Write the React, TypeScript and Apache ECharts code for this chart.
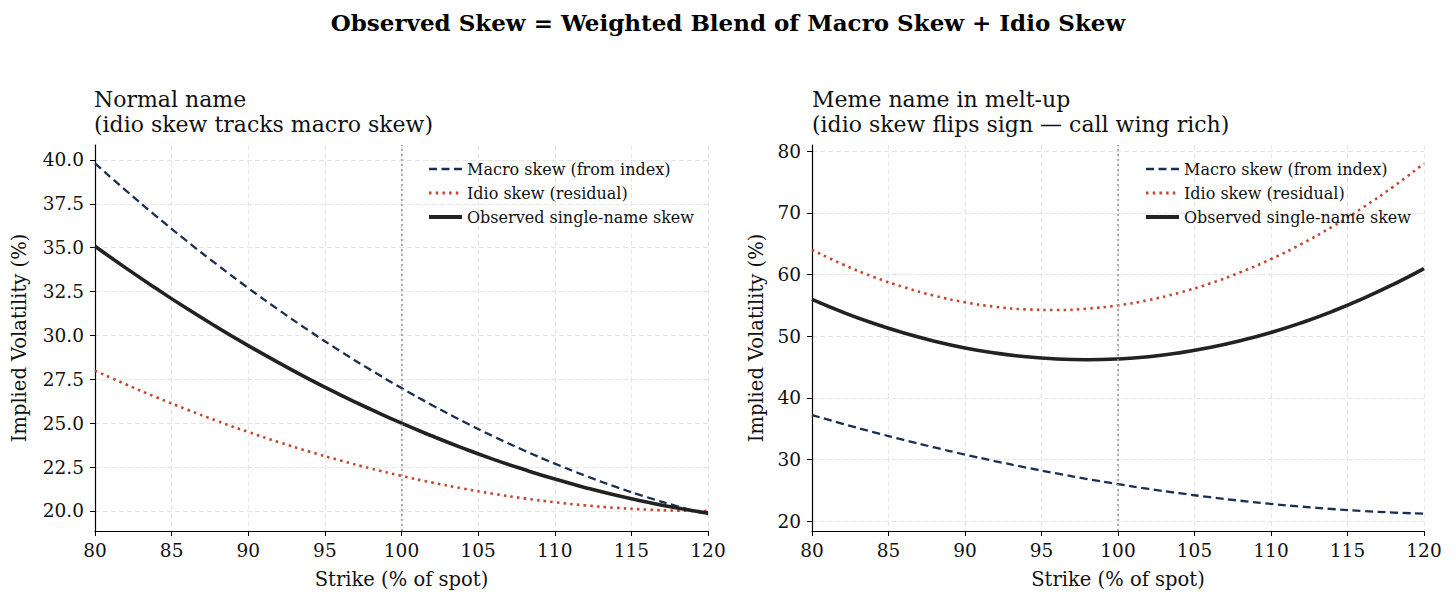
import React, { useEffect, useRef } from 'react';
import * as echarts from 'echarts';

const strikes = [80, 82, 84, 86, 88, 90, 92, 94, 96, 98, 100, 102, 104, 106, 108, 110, 112, 114, 116, 118, 120];

// Normal name
const normalMacro = [39.8, 38.27, 36.79, 35.37, 34.01, 32.7, 31.45, 30.25, 29.11, 28.03, 27.0, 26.03, 25.11, 24.25, 23.45, 22.7, 22.01, 21.37, 20.79, 20.27, 19.8];
const normalIdio = [28.0, 27.22, 26.48, 25.78, 25.12, 24.5, 23.92, 23.38, 22.88, 22.42, 22.0, 21.62, 21.28, 20.98, 20.72, 20.5, 20.32, 20.18, 20.08, 20.02, 20.0];
const normalObserved = [35.08, 33.85, 32.67, 31.53, 30.45, 29.42, 28.44, 27.5, 26.62, 25.79, 25.0, 24.27, 23.58, 22.94, 22.36, 21.82, 21.33, 20.89, 20.51, 20.17, 19.88];

// Meme name
const memeMacro = [37.2, 35.79, 34.45, 33.17, 31.95, 30.8, 29.71, 28.69, 27.73, 26.83, 26.0, 25.23, 24.53, 23.89, 23.31, 22.8, 22.35, 21.97, 21.65, 21.39, 21.2];
const memeIdio = [64.0, 61.66, 59.64, 57.94, 56.56, 55.5, 54.76, 54.34, 54.24, 54.46, 55.0, 55.86, 57.04, 58.54, 60.36, 62.5, 64.96, 67.74, 70.84, 74.26, 78.0];
const memeObserved = [55.96, 53.9, 52.08, 50.51, 49.18, 48.09, 47.25, 46.65, 46.29, 46.17, 46.3, 46.67, 47.29, 48.15, 49.25, 50.59, 52.18, 54.01, 56.08, 58.4, 60.96];

const normalTicks = [20, 22.5, 25, 27.5, 30, 32.5, 35, 37.5, 40];
const memeTicks = [20, 30, 40, 50, 60, 70, 80];

const SERIF = 'DejaVu Serif';
const NAVY = '#1b2f52';
const RUST = '#c4452f';
const INK = '#222222';

const pairs = (ys: number[]) => strikes.map((x, i) => [x, ys[i]]);

export default function App() {
  const ref = useRef<HTMLDivElement>(null);

  useEffect(() => {
    if (!ref.current) return;
    const chart = echarts.init(ref.current, null, { renderer: 'svg' });

    const xAxisBase = (gridIndex: number) => ({
      type: 'value',
      gridIndex,
      min: 80,
      max: 120,
      interval: 5,
      name: 'Strike (% of spot)',
      nameLocation: 'middle',
      nameGap: 38,
      nameTextStyle: { fontFamily: SERIF, fontSize: 19.5, color: '#111' },
      axisLine: { show: true, onZero: false, lineStyle: { color: '#000', width: 1.2 } },
      axisTick: { show: true, length: 5, lineStyle: { color: '#000' } },
      axisLabel: { fontFamily: SERIF, fontSize: 18.5, color: '#111', margin: 10, showMaxLabel: true, showMinLabel: true },
      splitLine: { show: true, lineStyle: { color: '#e2e2e2', type: [5, 3], width: 0.9 } },
    });

    const yAxisBase = (gridIndex: number, min: number, max: number, ticks: number[], nameGap: number, fmt: (v: number) => string) => ({
      type: 'value',
      gridIndex,
      min,
      max,
      name: 'Implied Volatility (%)',
      nameLocation: 'middle',
      nameGap,
      nameTextStyle: { fontFamily: SERIF, fontSize: 19.5, color: '#111' },
      axisLine: { show: true, lineStyle: { color: '#000', width: 1.2 } },
      axisTick: { show: true, length: 5, lineStyle: { color: '#000' }, customValues: ticks },
      axisLabel: { fontFamily: SERIF, fontSize: 18.5, color: '#111', margin: 11, customValues: ticks, formatter: fmt },
      splitLine: { show: true, lineStyle: { color: '#e2e2e2', type: [5, 3], width: 0.9 } },
    });

    const vline = {
      silent: true,
      symbol: 'none',
      label: { show: false },
      lineStyle: { color: '#9a9a9a', type: [2, 3], width: 1.6 },
      data: [{ xAxis: 100 }],
    };

    const mkSeries = (idx: number, macro: number[], idio: number[], obs: number[]) => [
      {
        name: 'Macro skew (from index)',
        type: 'line',
        xAxisIndex: idx,
        yAxisIndex: idx,
        data: pairs(macro),
        smooth: true,
        symbol: 'none',
        lineStyle: { color: NAVY, width: 2.3, type: [8, 4.5] },
        itemStyle: { color: NAVY },
        markLine: vline,
        z: 3,
      },
      {
        name: 'Idio skew (residual)',
        type: 'line',
        xAxisIndex: idx,
        yAxisIndex: idx,
        data: pairs(idio),
        smooth: true,
        symbol: 'none',
        lineStyle: { color: RUST, width: 2.6, type: [2.5, 4.2] },
        itemStyle: { color: RUST },
        z: 3,
      },
      {
        name: 'Observed single-name skew',
        type: 'line',
        xAxisIndex: idx,
        yAxisIndex: idx,
        data: pairs(obs),
        smooth: true,
        symbol: 'none',
        lineStyle: { color: INK, width: 3.6 },
        itemStyle: { color: INK },
        z: 4,
      },
    ];

    const legendBase = (left: number) => ({
      orient: 'vertical',
      left,
      top: 156,
      itemWidth: 33,
      itemHeight: 14,
      itemGap: 8,
      itemStyle: { opacity: 0, borderWidth: 0 },
      textStyle: { fontFamily: SERIF, fontSize: 16, lineHeight: 15, color: '#111' },
      data: [
        { name: 'Macro skew (from index)', lineStyle: { width: 2.6 } },
        { name: 'Idio skew (residual)', lineStyle: { width: 2.8 } },
        { name: 'Observed single-name skew', lineStyle: { width: 4 } },
      ],
    });

    chart.setOption({
      animation: false,
      backgroundColor: '#ffffff',
      title: [
        {
          text: 'Observed Skew = Weighted Blend of Macro Skew + Idio Skew',
          left: 'center',
          top: 6,
          textStyle: { fontFamily: SERIF, fontSize: 23, fontWeight: 'bold', color: '#000' },
        },
        {
          text: 'Normal name\n(idio skew tracks macro skew)',
          left: 89,
          top: 82,
          textStyle: { fontFamily: SERIF, fontSize: 22, fontWeight: 'normal', color: '#111', lineHeight: 25 },
        },
        {
          text: 'Meme name in melt-up\n(idio skew flips sign — call wing rich)',
          left: 807,
          top: 82,
          textStyle: { fontFamily: SERIF, fontSize: 22, fontWeight: 'normal', color: '#111', lineHeight: 25 },
        },
      ],
      legend: [legendBase(422), legendBase(1139)],
      grid: [
        { left: 95, top: 145, width: 613, height: 386, containLabel: false },
        { left: 812, top: 145, width: 612, height: 386, containLabel: false },
      ],
      xAxis: [xAxisBase(0), xAxisBase(1)],
      yAxis: [
        yAxisBase(0, 18.86, 40.85, normalTicks, 66, (v: number) => v.toFixed(1)),
        yAxisBase(1, 18.4, 81.0, memeTicks, 46, (v: number) => String(v)),
      ],
      series: [
        ...mkSeries(0, normalMacro, normalIdio, normalObserved),
        ...mkSeries(1, memeMacro, memeIdio, memeObserved),
      ],
    });

    return () => chart.dispose();
  }, []);

  return (
    <div
      ref={ref}
      style={{ position: 'fixed', left: 0, top: 0, width: 1456, height: 603, background: '#fff' }}
    />
  );
}
